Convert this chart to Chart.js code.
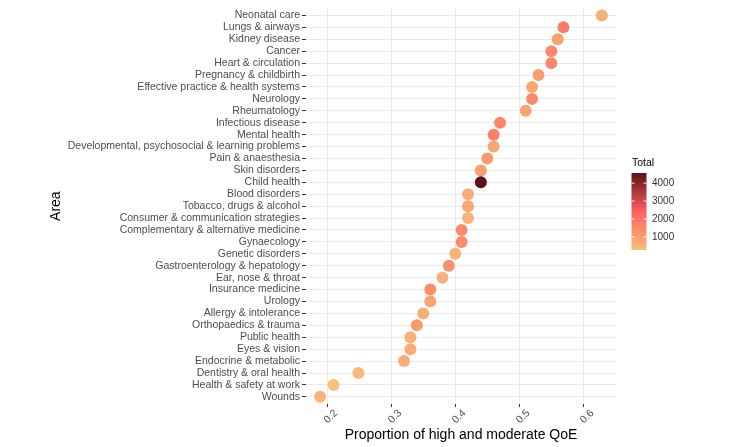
<!DOCTYPE html>
<html>
<head>
<meta charset="utf-8">
<script src="https://cdn.jsdelivr.net/npm/chart.js@4.4.0/dist/chart.umd.min.js"></script>
<style>
  html, body { margin: 0; padding: 0; background: #fff; }
  #wrap { width: 733px; height: 447px; }
</style>
</head>
<body>
<div id="wrap"><canvas id="qoeChart" width="733" height="447"></canvas></div>
<script>
// categories, top to bottom
const areas = [
    'Neonatal care', 'Lungs & airways', 'Kidney disease', 'Cancer', 'Heart & circulation',
    'Pregnancy & childbirth', 'Effective practice & health systems', 'Neurology', 'Rheumatology',
    'Infectious disease', 'Mental health', 'Developmental, psychosocial & learning problems',
    'Pain & anaesthesia', 'Skin disorders', 'Child health', 'Blood disorders',
    'Tobacco, drugs & alcohol', 'Consumer & communication strategies',
    'Complementary & alternative medicine', 'Gynaecology', 'Genetic disorders',
    'Gastroenterology & hepatology', 'Ear, nose & throat', 'Insurance medicine', 'Urology',
    'Allergy & intolerance', 'Orthopaedics & trauma', 'Public health', 'Eyes & vision',
    'Endocrine & metabolic', 'Dentistry & oral health', 'Health & safety at work', 'Wounds'
];
const proportion = [
    0.629, 0.569, 0.560, 0.550, 0.550,
    0.530, 0.520, 0.520, 0.510,
    0.470, 0.460, 0.460,
    0.450, 0.440, 0.440, 0.420,
    0.420, 0.420,
    0.410, 0.410, 0.400,
    0.390, 0.380, 0.361, 0.361,
    0.350, 0.340, 0.330, 0.330,
    0.320, 0.249, 0.210, 0.189
];
const totals = [
    600, 1800, 1000, 1500, 1500,
    1000, 800, 1500, 900,
    1600, 1700, 800,
    1100, 1000, 4570, 700,
    800, 500,
    1400, 1400, 500,
    1300, 600, 1400, 900,
    600, 1100, 600, 700,
    700, 400, 260, 500
];
const xTicks = [0.2, 0.3, 0.4, 0.5, 0.6];
const legendTicks = [1000, 2000, 3000, 4000];

const FONT = "'Liberation Sans', Arial, sans-serif";
const tMin = Math.min(...totals), tMax = Math.max(...totals);

// gradient stops (low -> high)
const stops = [
    [0, [247, 192, 121]],
    [0.5, [255, 95, 95]],
    [1, [92, 18, 22]]
];
function totalColor(v) {
    let t = (v - tMin) / (tMax - tMin);
    t = Math.max(0, Math.min(1, t));
    for (let i = 0; i < stops.length - 1; i++) {
        const [a, ca] = stops[i], [b, cb] = stops[i + 1];
        if (t <= b) {
            const f = (t - a) / (b - a);
            const c = ca.map((x, k) => Math.round(x + (cb[k] - x) * f));
            return `rgb(${c[0]},${c[1]},${c[2]})`;
        }
    }
    return 'rgb(92,18,22)';
}

const colorbar = {
    id: 'colorbar',
    afterDraw(chart) {
        const ctx = chart.ctx;
        const x0 = 631.5, w = 15, yTop = 173, yBot = 250;
        ctx.save();
        ctx.fillStyle = '#000';
        ctx.font = `10.5px ${FONT}`;
        ctx.textAlign = 'left';
        ctx.textBaseline = 'middle';
        ctx.fillText('Total', 632, 163.5);

        for (let y = yTop; y < yBot; y++) {
            const v = tMin + (yBot - y - 0.5) / (yBot - yTop) * (tMax - tMin);
            ctx.fillStyle = totalColor(v);
            ctx.fillRect(x0, y, w, 1);
        }
        ctx.font = `10px ${FONT}`;
        legendTicks.forEach(v => {
            const y = yBot - (v - tMin) / (tMax - tMin) * (yBot - yTop);
            ctx.strokeStyle = 'rgba(255,255,255,0.9)';
            ctx.lineWidth = 1;
            ctx.beginPath();
            ctx.moveTo(x0, y); ctx.lineTo(x0 + 3, y);
            ctx.moveTo(x0 + w - 3, y); ctx.lineTo(x0 + w, y);
            ctx.stroke();
            ctx.fillStyle = '#333';
            ctx.fillText(String(v), 652, y);
        });
        ctx.restore();
    }
};

new Chart(document.getElementById('qoeChart').getContext('2d'), {
    type: 'scatter',
    data: {
        datasets: [{
            label: 'Total',
            data: areas.map((a, i) => ({ x: proportion[i], y: i })),
            backgroundColor: ctx => totalColor(totals[ctx.dataIndex]),
            borderWidth: 0,
            pointRadius: 6,
            pointHoverRadius: 6
        }]
    },
    options: {
        responsive: false,
        animation: false,
        layout: { padding: { left: 0, right: 117, top: 5, bottom: 0 } },
        plugins: { legend: { display: false }, tooltip: { enabled: false } },
        scales: {
            x: {
                type: 'linear',
                min: 0.167,
                max: 0.651,
                afterBuildTicks: scale => { scale.ticks = xTicks.map(v => ({ value: v })); },
                afterFit: scale => { scale.height = 43; },
                border: { display: false },
                grid: { color: '#ebebeb', lineWidth: 1, tickLength: 3, tickColor: '#333' },
                ticks: {
                    minRotation: 45,
                    maxRotation: 45,
                    padding: 0,
                    labelOffset: 9,
                    color: '#4d4d4d',
                    font: { family: FONT, size: 10.5 },
                    callback: v => String(v)
                },
                title: {
                    display: true,
                    text: 'Proportion of high and moderate QoE',
                    color: '#000',
                    font: { family: FONT, size: 14 },
                    padding: { top: 0, bottom: 3 }
                }
            },
            y: {
                type: 'linear',
                min: -0.6,
                max: areas.length - 0.4,
                reverse: true,
                afterBuildTicks: scale => { scale.ticks = areas.map((a, i) => ({ value: i })); },
                afterFit: scale => { scale.width = 306; },
                border: { display: false },
                grid: { color: '#ebebeb', lineWidth: 1, tickLength: 4, tickColor: '#333' },
                ticks: {
                    autoSkip: false,
                    padding: 2,
                    color: '#4d4d4d',
                    font: { family: FONT, size: 10.5 },
                    callback: v => areas[v]
                },
                title: {
                    display: true,
                    text: 'Area',
                    color: '#000',
                    font: { family: FONT, size: 14 },
                    padding: { top: 48, bottom: 0 }
                }
            }
        }
    },
    plugins: [colorbar]
});
</script>
</body>
</html>
